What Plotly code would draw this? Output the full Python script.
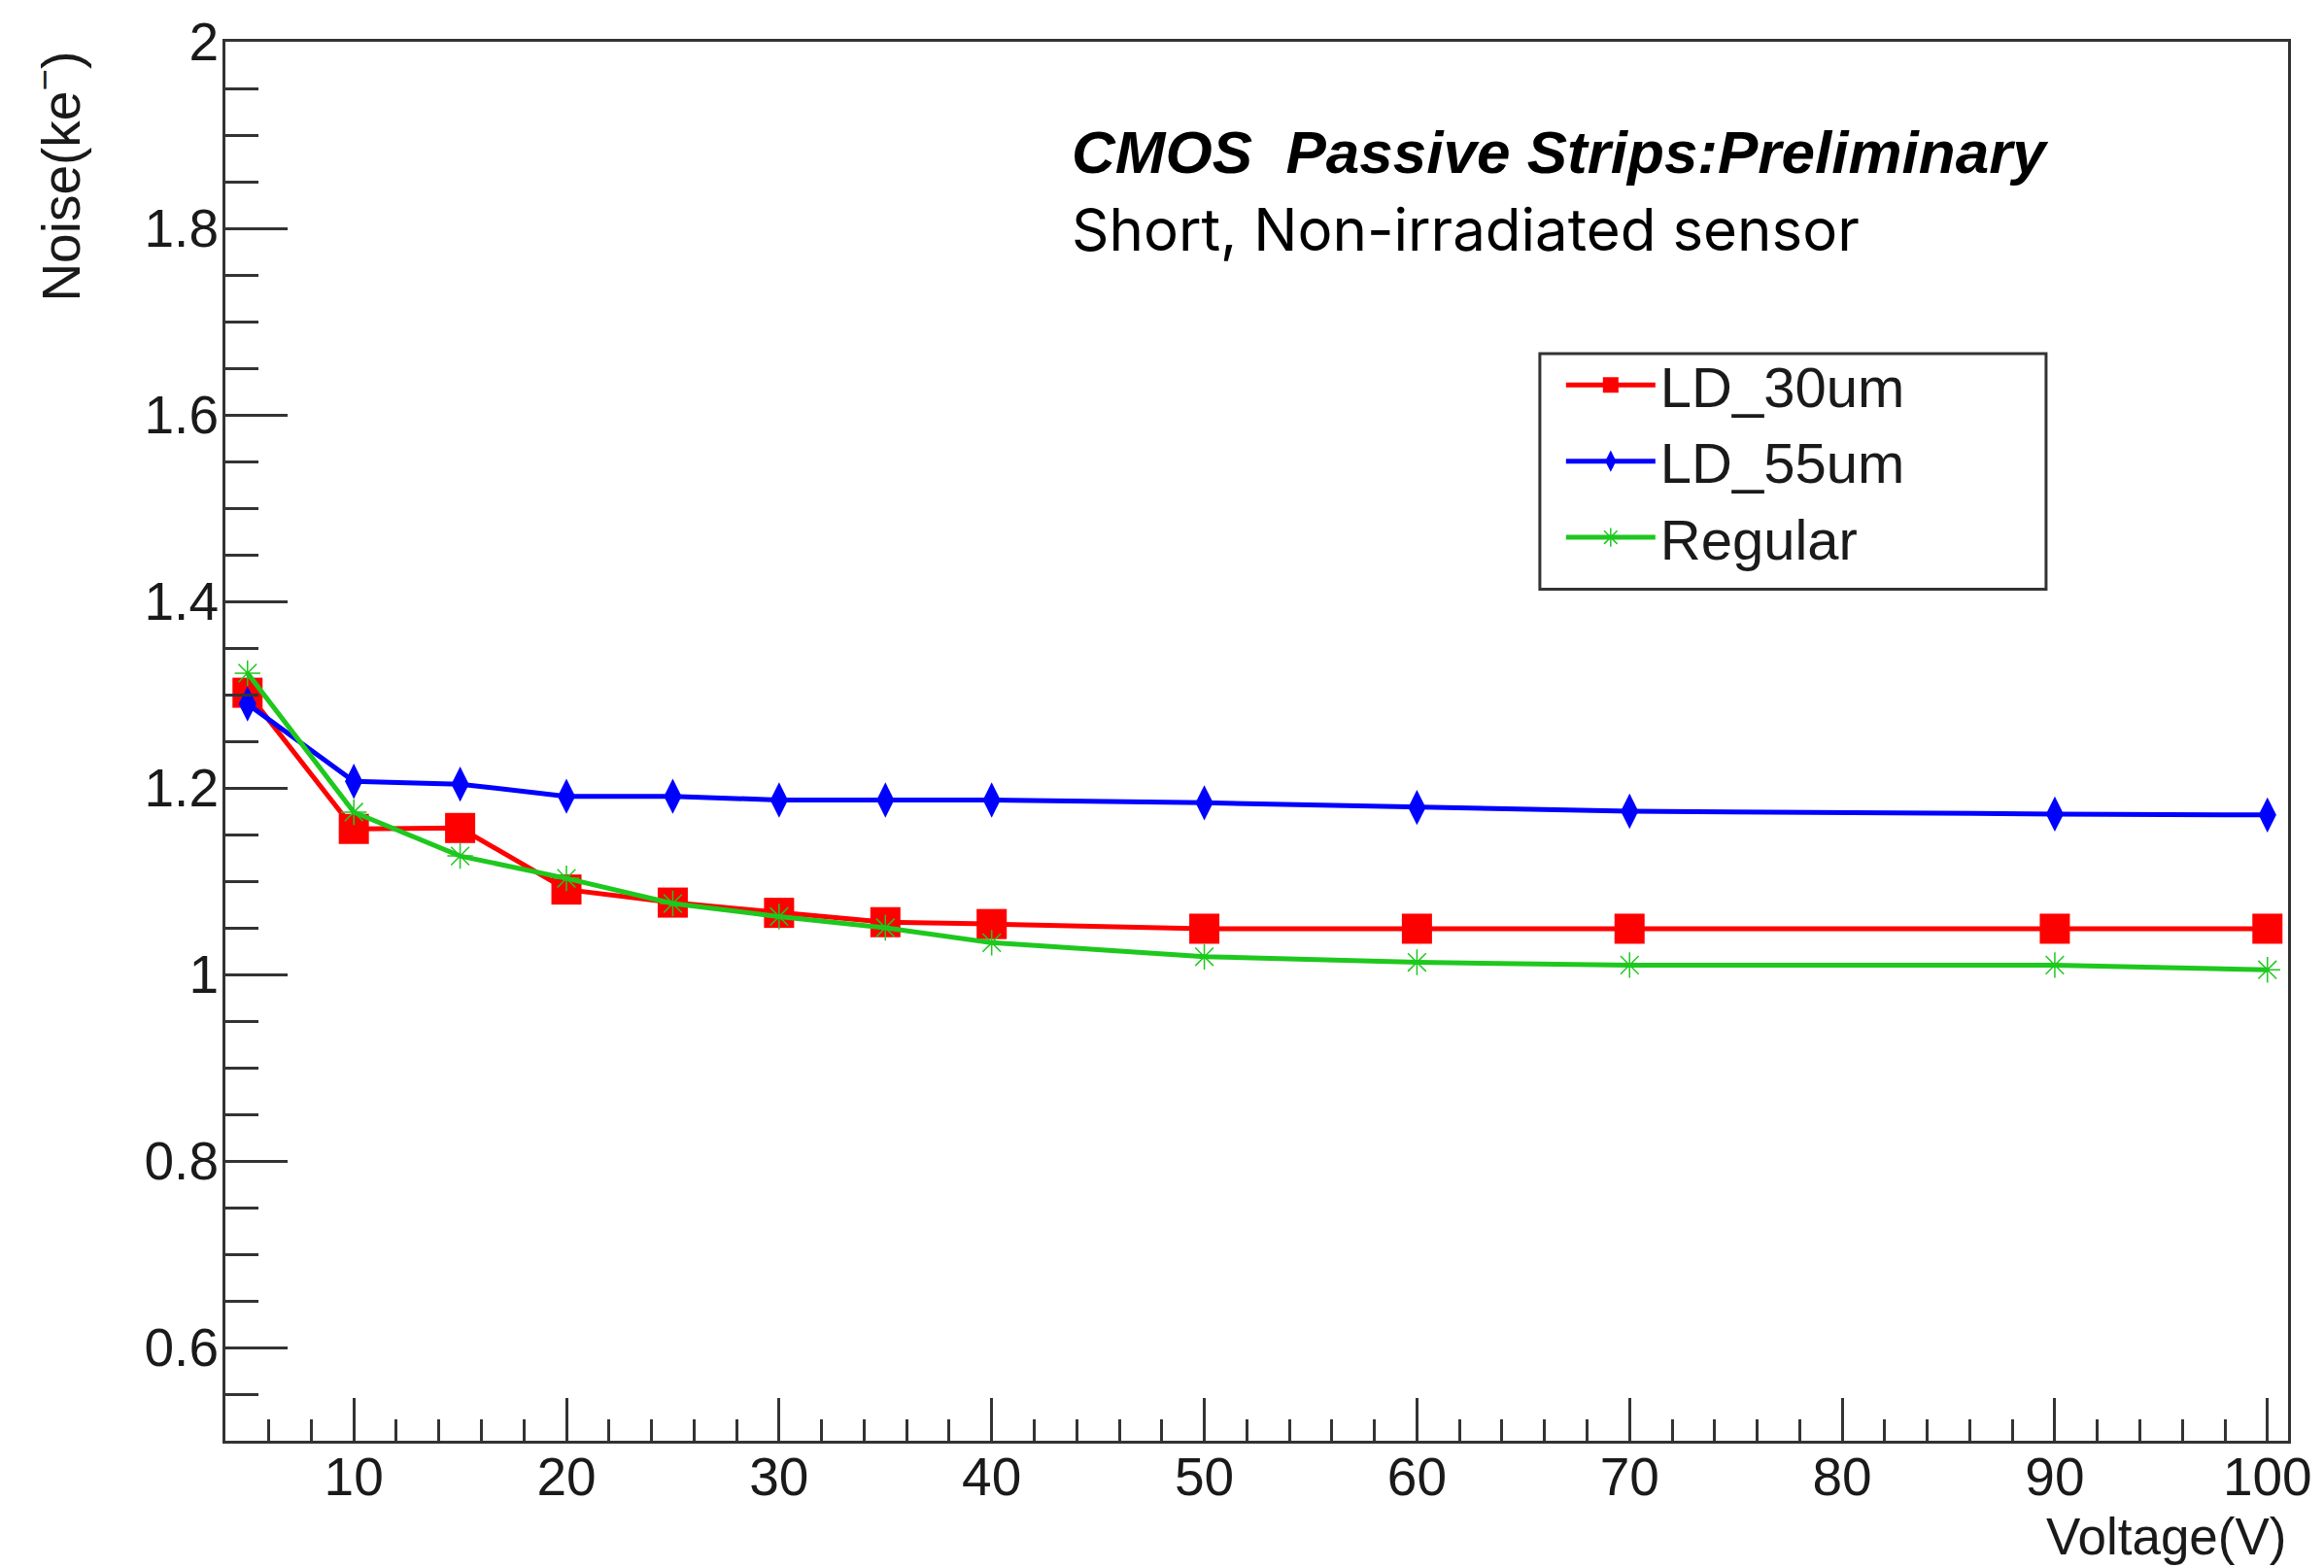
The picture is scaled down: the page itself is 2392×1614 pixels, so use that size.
import plotly.graph_objects as go

# ---- data ----
voltage = [5, 10, 15, 20, 25, 30, 35, 40, 50, 60, 70, 90, 100]
ld_30um = [1.302, 1.156, 1.157, 1.091, 1.077, 1.066, 1.056, 1.054, 1.049, 1.049, 1.049, 1.049, 1.049]
ld_55um = [1.290, 1.207, 1.204, 1.191, 1.191, 1.187, 1.187, 1.187, 1.184, 1.179, 1.175, 1.172, 1.171]
regular = [1.323, 1.174, 1.127, 1.103, 1.076, 1.062, 1.050, 1.034, 1.019, 1.013, 1.010, 1.010, 1.005]

series_names = ["LD_30um", "LD_55um", "Regular"]
y_tickvals = [0.6, 0.8, 1.0, 1.2, 1.4, 1.6, 1.8, 2.0]
y_ticktext = ["0.6", "0.8", "1", "1.2", "1.4", "1.6", "1.8", "2"]
x_tickvals = [10, 20, 30, 40, 50, 60, 70, 80, 90, 100]
x_ticktext = ["10", "20", "30", "40", "50", "60", "70", "80", "90", "100"]

title_main = "CMOS  Passive Strips:Preliminary"
title_sub = "Short, Non-irradiated sensor"
x_title = "Voltage(V)"
y_title = "Noise(ke<sup>\u2212</sup>)"

# ---- layout geometry (pixels) ----
W, H = 2392, 1614
L, R, T, B = 232, 29, 34, 131
PW, PH = W - L - R, H - T - B


def px(x):
    return (x - L) / PW


def py(y):
    return (H - B - y) / PH


FONT = "Liberation Sans, Arial, sans-serif"
AXC = "#333333"
TXT = "#1a1a1a"

fig = go.Figure()
fig.add_trace(go.Scatter(
    x=voltage, y=ld_30um, name=series_names[0], mode="lines+markers",
    line=dict(color="#ff0000", width=5),
    marker=dict(symbol="square", size=31, color="#ff0000"),
))
fig.add_trace(go.Scatter(
    x=voltage, y=ld_55um, name=series_names[1], mode="lines+markers",
    line=dict(color="#0000ff", width=5),
    marker=dict(symbol="diamond-tall", size=26, color="#0000ff"),
))
fig.add_trace(go.Scatter(
    x=voltage, y=regular, name=series_names[2], mode="lines+markers",
    line=dict(color="#1ec81e", width=5),
    marker=dict(symbol="asterisk-open", size=22, color="#1ec81e",
                line=dict(color="#1ec81e", width=1.5)),
))

fig.update_layout(
    width=W, height=H,
    margin=dict(l=L, r=R, t=T, b=B, pad=0),
    paper_bgcolor="white", plot_bgcolor="white",
    font=dict(family=FONT, size=55, color=TXT),
    showlegend=True,
    legend=dict(
        x=px(1612), y=py(345), xanchor="left", yanchor="top",
        borderwidth=0, bgcolor="rgba(0,0,0,0)",
        font=dict(family=FONT, size=58, color=TXT),
        itemwidth=92, tracegroupgap=0,
    ),
    shapes=[dict(
        type="rect", xref="paper", yref="paper",
        x0=px(1590), x1=px(2113), y0=py(601), y1=py(357),
        line=dict(color=AXC, width=3), fillcolor="rgba(0,0,0,0)", layer="below",
    )],
    xaxis=dict(
        range=[3.96, 100.97], showgrid=False, zeroline=False,
        showline=True, linecolor=AXC, linewidth=3, mirror=True,
        ticks="inside", ticklen=44, tickwidth=3, tickcolor=AXC,
        tickmode="array", tickvals=x_tickvals, ticktext=x_ticktext,
        tickfont=dict(family=FONT, size=55, color=TXT),
        ticklabelstandoff=-13,
        minor=dict(tickmode="linear", tick0=0, dtick=2, ticks="inside",
                   ticklen=22, tickwidth=3, tickcolor=AXC, showgrid=False),
    ),
    yaxis=dict(
        range=[0.5, 2.0], showgrid=False, zeroline=False,
        showline=True, linecolor=AXC, linewidth=3, mirror=True,
        ticks="inside", ticklen=64, tickwidth=3, tickcolor=AXC,
        tickmode="array", tickvals=y_tickvals, ticktext=y_ticktext,
        tickfont=dict(family=FONT, size=55, color=TXT),
        ticklabelstandoff=-7,
        minor=dict(tickmode="linear", tick0=0, dtick=0.05, ticks="inside",
                   ticklen=34, tickwidth=3, tickcolor=AXC, showgrid=False),
    ),
)

fig.add_annotation(
    xref="paper", yref="paper", x=px(1104), y=py(148),
    xanchor="left", yanchor="middle", showarrow=False,
    text="<b><i>" + title_main + "</i></b>",
    font=dict(family=FONT, size=62, color="black"),
)
fig.add_annotation(
    xref="paper", yref="paper", x=px(1104), y=py(228),
    xanchor="left", yanchor="middle", showarrow=False,
    text=title_sub,
    font=dict(family="Inter, sans-serif", size=60, color="black"),
)
fig.add_annotation(
    xref="paper", yref="paper", x=px(2362), y=py(1613),
    xanchor="right", yanchor="bottom", showarrow=False, borderpad=0,
    text=x_title, font=dict(family=FONT, size=53, color=TXT),
)
fig.add_annotation(
    xref="paper", yref="paper", x=px(58), y=py(42),
    xanchor="center", yanchor="top", showarrow=False, textangle=-90,
    text=y_title, font=dict(family=FONT, size=55, color=TXT),
)

fig.write_html("out.html")
